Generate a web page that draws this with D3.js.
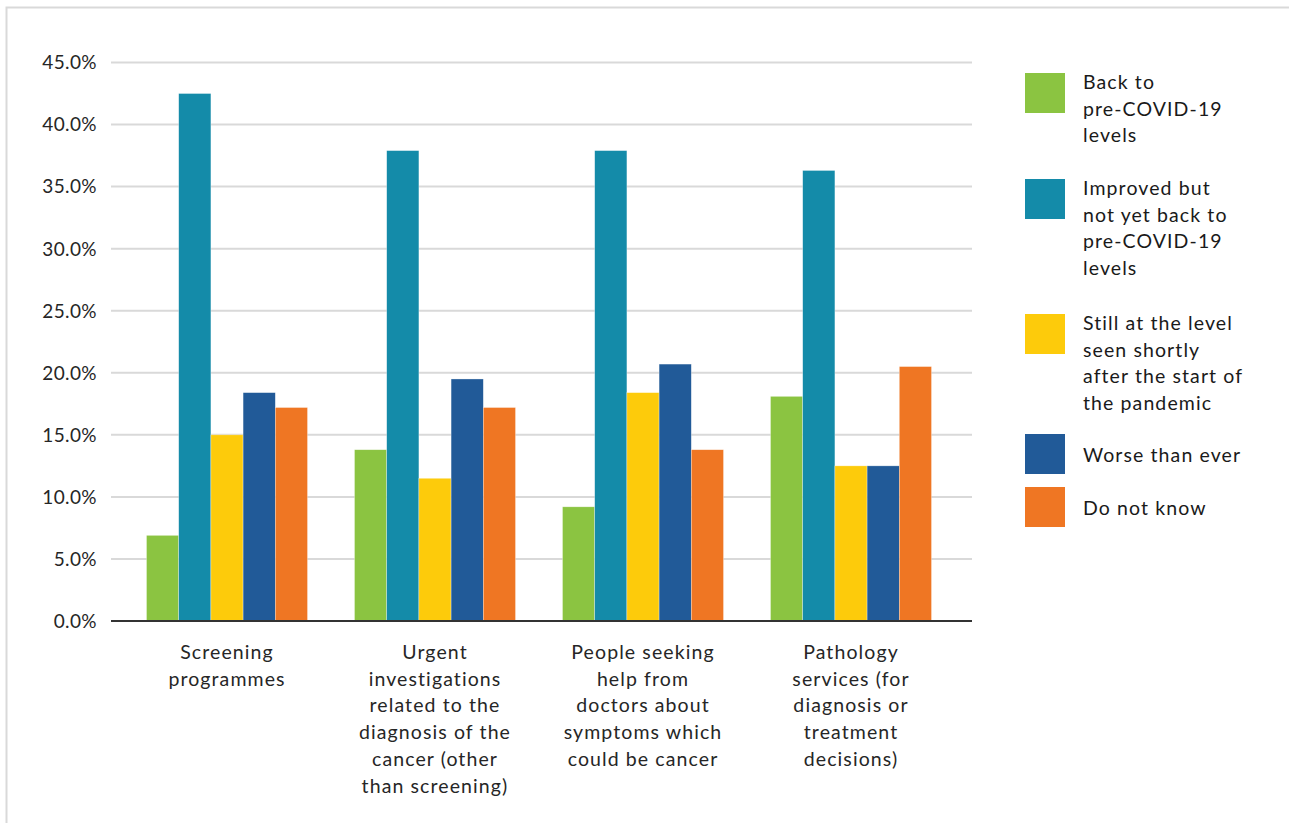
<!DOCTYPE html>
<html>
<head>
<meta charset="utf-8">
<script src="https://cdn.jsdelivr.net/npm/d3@7"></script>
<style>
  body { margin: 0; background: #fff; }
  svg { display: block; }
</style>
</head>
<body>
<div id="chart"></div>
<script>
var categories = [
    ["Screening", "programmes"],
    ["Urgent", "investigations", "related to the", "diagnosis of the", "cancer (other", "than screening)"],
    ["People seeking", "help from", "doctors about", "symptoms which", "could be cancer"],
    ["Pathology", "services (for", "diagnosis or", "treatment", "decisions)"]
];
var categoryKeys = ["Screening", "Urgent", "People", "Pathology"];

var seriesNames = [
    ["Back to", "pre-COVID-19", "levels"],
    ["Improved but", "not yet back to", "pre-COVID-19", "levels"],
    ["Still at the level", "seen shortly", "after the start of", "the pandemic"],
    ["Worse than ever"],
    ["Do not know"]
];
var seriesColors = ["#8bc441", "#148ba9", "#fdcb0b", "#215a98", "#ef7623"];

// percent values, one array per series, in category order
var backToPre   = [6.9, 13.8, 9.2, 18.1];
var improved    = [42.5, 37.9, 37.9, 36.3];
var stillLevel  = [15.0, 11.5, 18.4, 12.5];
var worse       = [18.4, 19.5, 20.7, 12.5];
var doNotKnow   = [17.2, 17.2, 13.8, 20.5];
var seriesValues = [backToPre, improved, stillLevel, worse, doNotKnow];

var yTicks = [0, 5, 10, 15, 20, 25, 30, 35, 40, 45];

var width = 1289, height = 823;
var font = "Lato, 'Noto Sans', sans-serif";

var svg = d3.select("#chart")
    .append("svg")
        .attr("width", width)
        .attr("height", height)
        .attr("font-family", font);

// outer frame (runs past right and bottom edge)
svg.append("rect")
    .attr("x", 6.5).attr("y", 7.5)
    .attr("width", width + 20).attr("height", height + 20)
    .attr("fill", "none")
    .attr("stroke", "#d9d9d9")
    .attr("stroke-width", 2);

var y = d3.scaleLinear().domain([0, 45]).range([621, 62.5]);

var x0 = d3.scaleBand()
    .domain(categoryKeys)
    .range([123, 955])
    .paddingInner(0.226)
    .paddingOuter(0.113);

var x1 = d3.scaleBand()
    .domain(d3.range(seriesValues.length))
    .range([0, x0.bandwidth()]);

// gridlines
svg.append("g")
    .selectAll("line")
    .data(yTicks.filter(d => d > 0))
    .join("line")
        .attr("x1", 111).attr("x2", 972)
        .attr("y1", d => y(d)).attr("y2", d => y(d))
        .attr("stroke", "#d9d9d9")
        .attr("stroke-width", 2);

// y tick labels
svg.append("g")
    .selectAll("text")
    .data(yTicks)
    .join("text")
        .attr("x", 97)
        .attr("y", d => y(d))
        .attr("dy", "0.36em")
        .attr("text-anchor", "end")
        .attr("font-size", 19)
        .attr("letter-spacing", 0.4)
        .attr("fill", "#262626")
        .text(d => d.toFixed(1) + "%");

// bars
var groups = svg.append("g")
    .selectAll("g")
    .data(categoryKeys)
    .join("g")
        .attr("transform", d => `translate(${x0(d)},0)`);

groups.selectAll("rect")
    .data((d, i) => seriesValues.map((s, j) => ({series: j, value: s[i]})))
    .join("rect")
        .attr("x", d => x1(d.series))
        .attr("y", d => y(d.value))
        .attr("width", x1.bandwidth())
        .attr("height", d => y(0) - y(d.value))
        .attr("fill", d => seriesColors[d.series])
        .attr("stroke", "#fff")
        .attr("stroke-opacity", 0.5)
        .attr("stroke-width", 0.6);

// baseline
svg.append("line")
    .attr("x1", 111).attr("x2", 972)
    .attr("y1", y(0)).attr("y2", y(0))
    .attr("stroke", "#333")
    .attr("stroke-width", 2);

// category labels
svg.append("g")
    .selectAll("text")
    .data(categoryKeys)
    .join("text")
        .attr("text-anchor", "middle")
        .attr("font-size", 19.5)
        .attr("letter-spacing", 1.1)
        .attr("fill", "#262626")
        .attr("transform", d => `translate(${x0(d) + x0.bandwidth() / 2},659)`)
        .each(function(d, i) {
            d3.select(this).selectAll("tspan")
                .data(categories[i])
                .join("tspan")
                    .attr("x", 0)
                    .attr("y", (t, k) => k * 26.7)
                    .text(t => t);
        });

// legend
var legendTops = [73, 179, 314, 434, 487];
var legend = svg.append("g")
    .selectAll("g")
    .data(seriesNames)
    .join("g")
        .attr("transform", (d, i) => `translate(1025,${legendTops[i]})`);

legend.append("rect")
    .attr("width", 40).attr("height", 40)
    .attr("fill", (d, i) => seriesColors[i]);

legend.append("text")
    .attr("font-size", 19.5)
    .attr("letter-spacing", 1.1)
    .attr("fill", "#1a1a1a")
    .each(function(d, i) {
        var offset = d.length === 1 ? 28 : 16;
        d3.select(this).selectAll("tspan")
            .data(d)
            .join("tspan")
                .attr("x", 58)
                .attr("y", (t, k) => offset + k * 26.7)
                .text(t => t);
    });
</script>
</body>
</html>
